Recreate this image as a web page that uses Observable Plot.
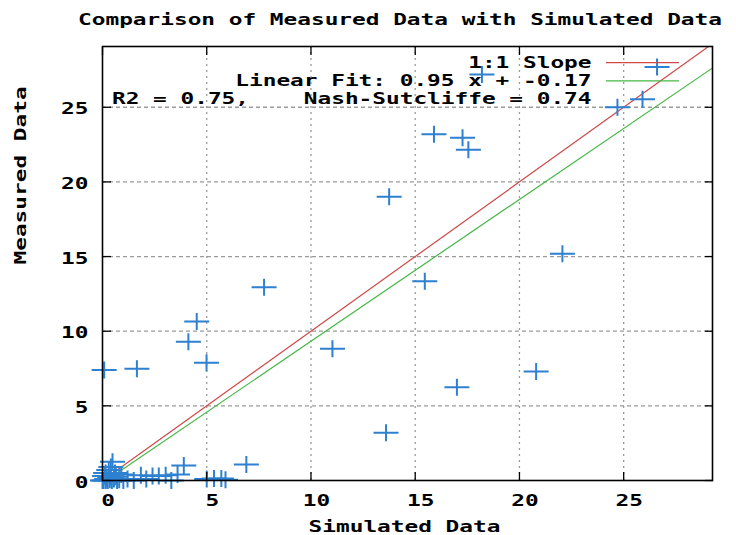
<!DOCTYPE html>
<html><head><meta charset="utf-8">
<script src="https://cdn.jsdelivr.net/npm/d3@7"></script>
<script src="https://cdn.jsdelivr.net/npm/@observablehq/plot@0.6"></script>
<style>body{margin:0;background:#fff}</style>
</head><body><div id="chart"></div>
<script>
// ---- data ----
const simulated = [26.6, 18.2, 24.7, 15.9, 17.27, 17.55, 13.75, 22.06, 15.46, 20.8, 17.0, 13.6, 7.75, 4.52, 4.12, 4.99, 1.65, 0.08, 11.03, 6.9, 3.9,
  0.48, 0.3, 0.6, 0.1, 0.9, 0.2, 0.0, 0.05, 0.15, 0.25, 0.35, 0.45, 0.55, 0.7, 0.8, 1.0, 1.2, 1.5, 1.84, 2.4, 2.7, 3.03, 3.6, 2.1, 3.3, 5.0, 5.35, 5.7, 5.9, 0.4, 0.15, 0.65, 0.35];
const measured = [27.7, 27.2, 25.0, 23.2, 22.95, 22.15, 19.0, 15.18, 13.35, 7.3, 6.25, 3.2, 12.95, 10.65, 9.3, 7.88, 7.48, 7.4, 8.82, 1.07, 1.0,
  1.25, 0.7, 0.5, 0.3, 0.4, 0.1, 0.0, 0.0, 0.0, 0.0, 0.05, 0.0, 0.1, 0.0, 0.05, 0.0, 0.1, 0.0, 0.35, 0.3, 0.3, 0.35, 0.4, 0.1, 0.0, 0.1, 0.13, 0.13, 0.05, 0.9, 0.5, 0.25, 0.2];
const xTicks = [0, 5, 10, 15, 20, 25];
const yTicks = [0, 5, 10, 15, 20, 25];
const xDomain = [0, 29.26];
const yDomain = [0, 29.07];
const fitSlope = 0.95, fitIntercept = -0.17;
const titleText = "Comparison of Measured Data with Simulated Data";
const xLabel = "Simulated Data";
const yLabel = "Measured Data";
const legendLabels = ["1:1 Slope", "Linear Fit: 0.95 x + -0.17", "R2 = 0.75,\u00a0\u00a0\u00a0\u00a0Nash-Sutcliffe = 0.74"];

// ---- styles ----
const BLUE = "#2e80d0", RED = "#d04848", GREEN = "#44b844", GRID = "#9a9a9a";
const CHAR_ADVANCE = 13.7; // wide bitmap-like font of the original
const points = simulated.map((s, i) => ({sim: s, meas: measured[i]}));
const lineData = xDomain.map(x => ({x, one: x, fit: fitSlope * x + fitIntercept}));

const cross = {draw(ctx) { ctx.moveTo(-12.5, 0); ctx.lineTo(12.5, 0); ctx.moveTo(0, -8.5); ctx.lineTo(0, 8.5); }};
const hline = {draw(ctx) { ctx.moveTo(-36.5, 0); ctx.lineTo(36.5, 0); }};

const rowY = i => 16.1 + i * 18.3;
const legendColors = [RED, GREEN, BLUE];
const legendSymbols = [hline, hline, cross];

const chart = Plot.plot({
  width: 736, height: 535,
  marginLeft: 102, marginRight: 24, marginTop: 46, marginBottom: 55,
  x: {domain: xDomain},
  y: {domain: yDomain},
  style: {fontFamily: "'DejaVu Sans Mono', monospace", fontWeight: "bold", fontSize: "16px", background: "white", color: "black"},
  marks: [
    Plot.gridX(xTicks.filter(d => d > 0), {stroke: GRID, strokeOpacity: 1, strokeWidth: 1.3, strokeDasharray: "2,4"}),
    Plot.gridY(yTicks.filter(d => d > 0), {stroke: GRID, strokeOpacity: 1, strokeWidth: 1.3, strokeDasharray: "4,3"}),
    Plot.line(lineData, {x: "x", y: "one", stroke: RED, strokeWidth: 1.2, clip: true}),
    Plot.line(lineData, {x: "x", y: "fit", stroke: GREEN, strokeWidth: 1.2, clip: true}),
    Plot.dot(points, {x: "sim", y: "meas", symbol: cross, stroke: BLUE, fill: "none", strokeWidth: 2}),
    // inward ticks on all four sides
    Plot.axisX({anchor: "bottom", ticks: xTicks, tickSize: 8, dy: -8, tickFormat: () => "", label: null, strokeWidth: 1.3}),
    Plot.axisX({anchor: "top", ticks: xTicks, tickSize: 8, dy: 8, tickFormat: () => "", label: null, strokeWidth: 1.3}),
    Plot.axisY({anchor: "left", ticks: yTicks, tickSize: 9, dx: 9, tickFormat: () => "", label: null, strokeWidth: 1.3}),
    Plot.axisY({anchor: "right", ticks: yTicks, tickSize: 8, dx: -8, tickFormat: () => "", label: null, strokeWidth: 1.3}),
    // tick labels
    Plot.axisX({anchor: "bottom", ticks: xTicks, tickSize: 0, tickPadding: 14, dx: 5.5, label: null}),
    Plot.axisY({anchor: "left", ticks: yTicks, tickSize: 0, tickPadding: 14, dy: 2, label: null}),
    Plot.frame({stroke: "black", strokeWidth: 1.6}),
    // titles
    Plot.text([titleText], {frameAnchor: "top", lineAnchor: "middle", dy: -27, dx: -7.5, text: d => d}),
    Plot.text([xLabel], {frameAnchor: "bottom", lineAnchor: "middle", dy: 46.5, dx: -3, text: d => d}),
    Plot.text([yLabel], {frameAnchor: "left", lineAnchor: "middle", dx: -82, dy: 1, rotate: -90, text: d => d}),
    // legend
    ...legendLabels.map((lab, i) => Plot.text([lab], {frameAnchor: "top-right", lineAnchor: "middle", textAnchor: "end", dx: -121, dy: rowY(i), text: d => d})),
    ...legendLabels.map((lab, i) => Plot.dot([lab], {frameAnchor: "top-right", dx: -70, dy: rowY(i), symbol: legendSymbols[i], stroke: legendColors[i], fill: "none", strokeWidth: i === 2 ? 2 : 1.2}))
  ]
});
// widen glyphs to the original's wide fixed-pitch font
chart.querySelectorAll("text").forEach(t => {
  const n = t.textContent.length;
  if (n > 0) {
    t.setAttribute("textLength", n * CHAR_ADVANCE);
    t.setAttribute("lengthAdjust", "spacingAndGlyphs");
  }
});
document.getElementById("chart").appendChild(chart);
</script>
</body></html>
